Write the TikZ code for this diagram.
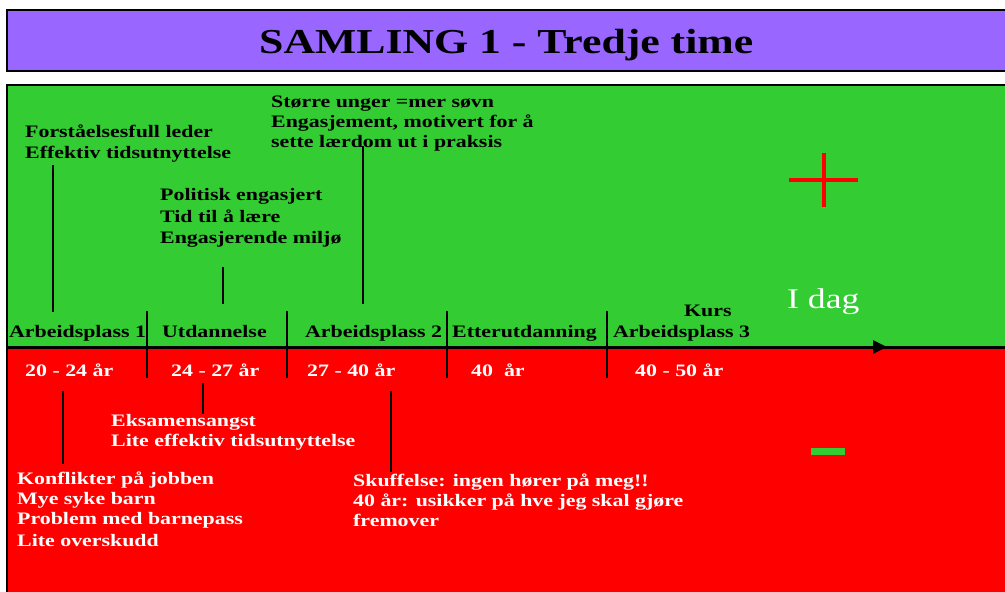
\documentclass[tikz,border=0pt]{standalone}
\usepackage{fontspec}
\setmainfont{Liberation Serif}
\newfontfamily\wideserif{Liberation Serif}[FakeStretch=1.25]
\usetikzlibrary{arrows.meta}
\definecolor{titlepurple}{HTML}{9966FF}
\definecolor{posgreen}{HTML}{33CC33}
\definecolor{negred}{HTML}{FF0000}
\tikzset{
  lbl/.style={anchor=base west, inner sep=0pt, font=\wideserif\bfseries\fontsize{17.5}{21}\selectfont},
  darklbl/.style={lbl, text=black},
  whitelbl/.style={lbl, text=white},
  stub/.style={draw=black, line width=2pt},
  sep/.style={draw=black, line width=2pt},
  panel/.style={draw=black, line width=2pt}
}
\begin{document}
\begin{tikzpicture}[x=1pt,y=-1pt]
\useasboundingbox (0,0) rectangle (1005,592);
% title
\filldraw[panel, fill=titlepurple] (7,10) rectangle (1015,71);
\node[anchor=base west, inner sep=0pt, font=\wideserif\bfseries\fontsize{35}{40}\selectfont] (title) at (259,53) {SAMLING 1 - Tredje time};
% panels
\fill[posgreen] (7,85) rectangle (1015,347);
\fill[negred] (7,347) rectangle (1015,600);
\draw[panel] (1015,85) -- (7,85) -- (7,600);
% timeline
\coordinate (tl0) at (7,347);
\coordinate (tltip) at (887,347);
\coordinate (tlend) at (1010,347);
\draw[line width=3pt] (tl0) -- (tlend);
\draw[line width=3pt, -{Triangle[length=14pt,width=13pt]}] (tl0) -- (tltip);
% separators
\foreach \x/\n in {147/a,287/b,447/c,607/d}{
  \coordinate (s\n t) at (\x,311);
  \coordinate (s\n b) at (\x,378);
  \draw[sep] (s\n t) -- (s\n b);
}
% phase labels
\node[darklbl] (p1) at (9,337) {Arbeidsplass 1};
\node[darklbl] (p2) at (162,337) {Utdannelse};
\node[darklbl] (p3) at (305,337) {Arbeidsplass 2};
\node[darklbl] (p4) at (452,337) {Etterutdanning};
\node[darklbl] (p5k) at (684,316) {Kurs};
\node[darklbl] (p5) at (613,337) {Arbeidsplass 3};
% ages
\node[whitelbl] (a1) at (25,376) {20 - 24 år};
\node[whitelbl] (a2) at (171,376) {24 - 27 år};
\node[whitelbl] (a3) at (307,376) {27 - 40 år};
\node[whitelbl] (a4) at (471,376) {40 \ år};
\node[whitelbl] (a5) at (635,376) {40 - 50 år};
% I dag
\node[anchor=base west, inner sep=0pt, text=white, font=\wideserif\fontsize{28.5}{32}\selectfont] (idag) at (787,308) {I dag};
% green texts
\node[darklbl] (g1a) at (25,137) {Forståelsesfull leder};
\node[darklbl] (g1b) at (25,158) {Effektiv tidsutnyttelse};
\node[darklbl] (g2a) at (160,200) {Politisk engasjert};
\node[darklbl] (g2b) at (160,222) {Tid til å lære};
\node[darklbl] (g2c) at (160,243) {Engasjerende miljø};
\node[darklbl] (g3a) at (271,107) {Større unger =mer søvn};
\node[darklbl] (g3b) at (271,127) {Engasjement, motivert for å};
\node[darklbl] (g3c) at (271,147) {sette lærdom ut i praksis};
% green stubs
\coordinate (c1t) at (53,165); \coordinate (c1b) at (53,312);
\coordinate (c2t) at (223,267); \coordinate (c2b) at (223,304);
\coordinate (c3t) at (363,146); \coordinate (c3b) at (363,304);
\draw[stub] (c1t) -- (c1b);
\draw[stub] (c2t) -- (c2b);
\draw[stub] (c3t) -- (c3b);
% red texts
\node[whitelbl] (r2a) at (111,426) {Eksamensangst};
\node[whitelbl] (r2b) at (111,446) {Lite effektiv tidsutnyttelse};
\node[whitelbl] (r1a) at (17,484) {Konflikter på jobben};
\node[whitelbl] (r1b) at (17,504) {Mye syke barn};
\node[whitelbl] (r1c) at (17,524) {Problem med barnepass};
\node[whitelbl] (r1d) at (17,546) {Lite overskudd};
\node[whitelbl] (r3a) at (353,486) {Skuffelse: ingen hører på meg!!};
\node[whitelbl] (r3b) at (353,506) {40 år: usikker på hve jeg skal gjøre};
\node[whitelbl] (r3c) at (353,526) {fremover};
% red stubs
\coordinate (d1t) at (63,391); \coordinate (d1b) at (63,464);
\coordinate (d2t) at (203,383); \coordinate (d2b) at (203,414);
\coordinate (d3t) at (391,391); \coordinate (d3b) at (391,472);
\draw[stub] (d1t) -- (d1b);
\draw[stub] (d2t) -- (d2b);
\draw[stub] (d3t) -- (d3b);
% plus and minus
\draw[negred, line width=4pt] (789,180) -- (858,180);
\draw[negred, line width=4pt] (824,153) -- (824,207);
\fill[posgreen] (811,448) rectangle (845,455);
\end{tikzpicture}
\end{document}
